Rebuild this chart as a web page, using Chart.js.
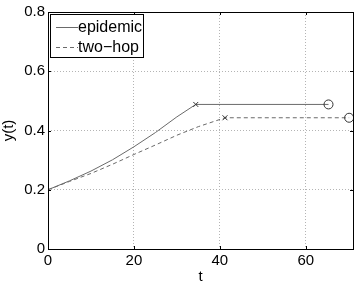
<!DOCTYPE html>
<html><head><meta charset="utf-8">
<script src="https://cdn.jsdelivr.net/npm/chart.js@4/dist/chart.umd.min.js"></script>
<style>html,body{margin:0;padding:0;background:#fff}#w{width:360px;height:286px}</style>
</head><body><div id="w"><canvas id="c" width="360" height="286"></canvas></div>
<script>
const seriesNames = ["epidemic", "two\u2212hop"];
const epidemicT = [0, 5, 10, 15, 20, 25, 30, 34.4, 65.3];
const epidemicY = [0.2, 0.23, 0.263, 0.301, 0.345, 0.393, 0.446, 0.488, 0.488];
const twoHopT = [0, 5, 10, 15, 20, 25, 30, 35, 41.2, 70.1];
const twoHopY = [0.2, 0.228, 0.255, 0.286, 0.319, 0.351, 0.384, 0.413, 0.443, 0.443];
const xTicks = [0, 20, 40, 60];
const yTicks = [0, 0.2, 0.4, 0.6, 0.8];
const xTitle = "t";
const yTitle = "y(t)";

function pts(t, y){ return t.map((v,i)=>({x:v,y:y[i]})); }
function styles(n){ return Array.from({length:n},(_,i)=> i===n-1?'circle':(i===n-2?'crossRot':'circle')); }
function radii(n){ return Array.from({length:n},(_,i)=> i===n-1?4.5:(i===n-2?3.5:0)); }

const FONT = "'Liberation Sans', Arial, sans-serif";
const lineColor = '#6a6a6a';

const legendPlugin = {
  id:'boxLegend',
  afterDraw(chart){
    const ctx = chart.ctx;
    ctx.save();
    const x0=50.5, y0=14.5, w=93, h=43;
    ctx.fillStyle='#fff'; ctx.fillRect(x0,y0,w,h);
    ctx.strokeStyle='#000'; ctx.lineWidth=1; ctx.strokeRect(x0,y0,w,h);
    ctx.font = "16px " + FONT; ctx.textBaseline='middle'; ctx.fillStyle='#000';
    const rows=[27.5,47.5];
    chart.data.datasets.forEach((ds,i)=>{
      ctx.strokeStyle=lineColor; ctx.lineWidth=1;
      ctx.setLineDash(ds.borderDash||[]);
      ctx.beginPath(); ctx.moveTo(56,rows[i]); ctx.lineTo(78,rows[i]); ctx.stroke();
      ctx.setLineDash([]);
      ctx.fillText(ds.label, 78, rows[i]);
    });
    ctx.restore();
  }
};
const framePlugin = {
  id:'frame',
  afterDraw(chart){
    const a=chart.chartArea, ctx=chart.ctx;
    ctx.save(); ctx.strokeStyle='#000'; ctx.lineWidth=1;
    ctx.strokeRect(Math.round(a.left)+0.5, Math.round(a.top)+0.5, Math.round(a.right-a.left), Math.round(a.bottom-a.top));
    const xs=chart.scales.x, ys=chart.scales.y;
    ctx.beginPath();
    xTicks.forEach(v=>{const p=Math.round(xs.getPixelForValue(v))+0.5; ctx.moveTo(p,a.bottom); ctx.lineTo(p,a.bottom-3); ctx.moveTo(p,a.top); ctx.lineTo(p,a.top+3);});
    yTicks.forEach(v=>{const p=Math.round(ys.getPixelForValue(v))+0.5; ctx.moveTo(a.left,p); ctx.lineTo(a.left+3,p); ctx.moveTo(a.right,p); ctx.lineTo(a.right-3,p);});
    ctx.stroke(); ctx.restore();
  }
};

new Chart(document.getElementById('c'), {
  type:'line',
  data:{datasets:[
    {label:seriesNames[0], data:pts(epidemicT,epidemicY), borderColor:lineColor, borderWidth:1, pointStyle:styles(epidemicT.length), pointRadius:radii(epidemicT.length), pointBorderColor:'#333', pointBackgroundColor:'rgba(0,0,0,0)', pointBorderWidth:1, tension:0},
    {label:seriesNames[1], data:pts(twoHopT,twoHopY), borderColor:lineColor, borderWidth:1, borderDash:[4,3], pointStyle:styles(twoHopT.length), pointRadius:radii(twoHopT.length), pointBorderColor:'#333', pointBackgroundColor:'rgba(0,0,0,0)', pointBorderWidth:1, tension:0}
  ]},
  options:{
    responsive:false, animation:false, devicePixelRatio:1,
    layout:{padding:{top:12,right:7,left:0,bottom:0}},
    plugins:{legend:{display:false}, tooltip:{enabled:false}},
    scales:{
      x:{type:'linear', min:0, max:71,
        afterBuildTicks(s){ s.ticks = xTicks.map(v=>({value:v})); },
        afterFit(s){ s.height = 37; },
        grid:{color:'#b4b4b4', lineWidth:1, drawTicks:false},
        border:{display:false, dash:[1,2]},
        ticks:{color:'#000', font:{family:FONT,size:15}, padding:3, maxRotation:0},
        title:{display:true, text:xTitle, color:'#000', font:{family:FONT,size:15}, padding:{top:-4,bottom:0}}
      },
      y:{type:'linear', min:0, max:0.8,
        afterBuildTicks(s){ s.ticks = yTicks.map(v=>({value:v})); },
        afterFit(s){ s.width = 48; },
        grid:{color:'#b4b4b4', lineWidth:1, drawTicks:false},
        border:{display:false, dash:[1,2]},
        ticks:{color:'#000', font:{family:FONT,size:15}, padding:3, callback:v=>String(Math.round(v*10)/10)},
        title:{display:true, text:yTitle, color:'#000', font:{family:FONT,size:15}, padding:{top:0,bottom:2}}
      }
    }
  },
  plugins:[legendPlugin, framePlugin]
});
</script></body></html>
